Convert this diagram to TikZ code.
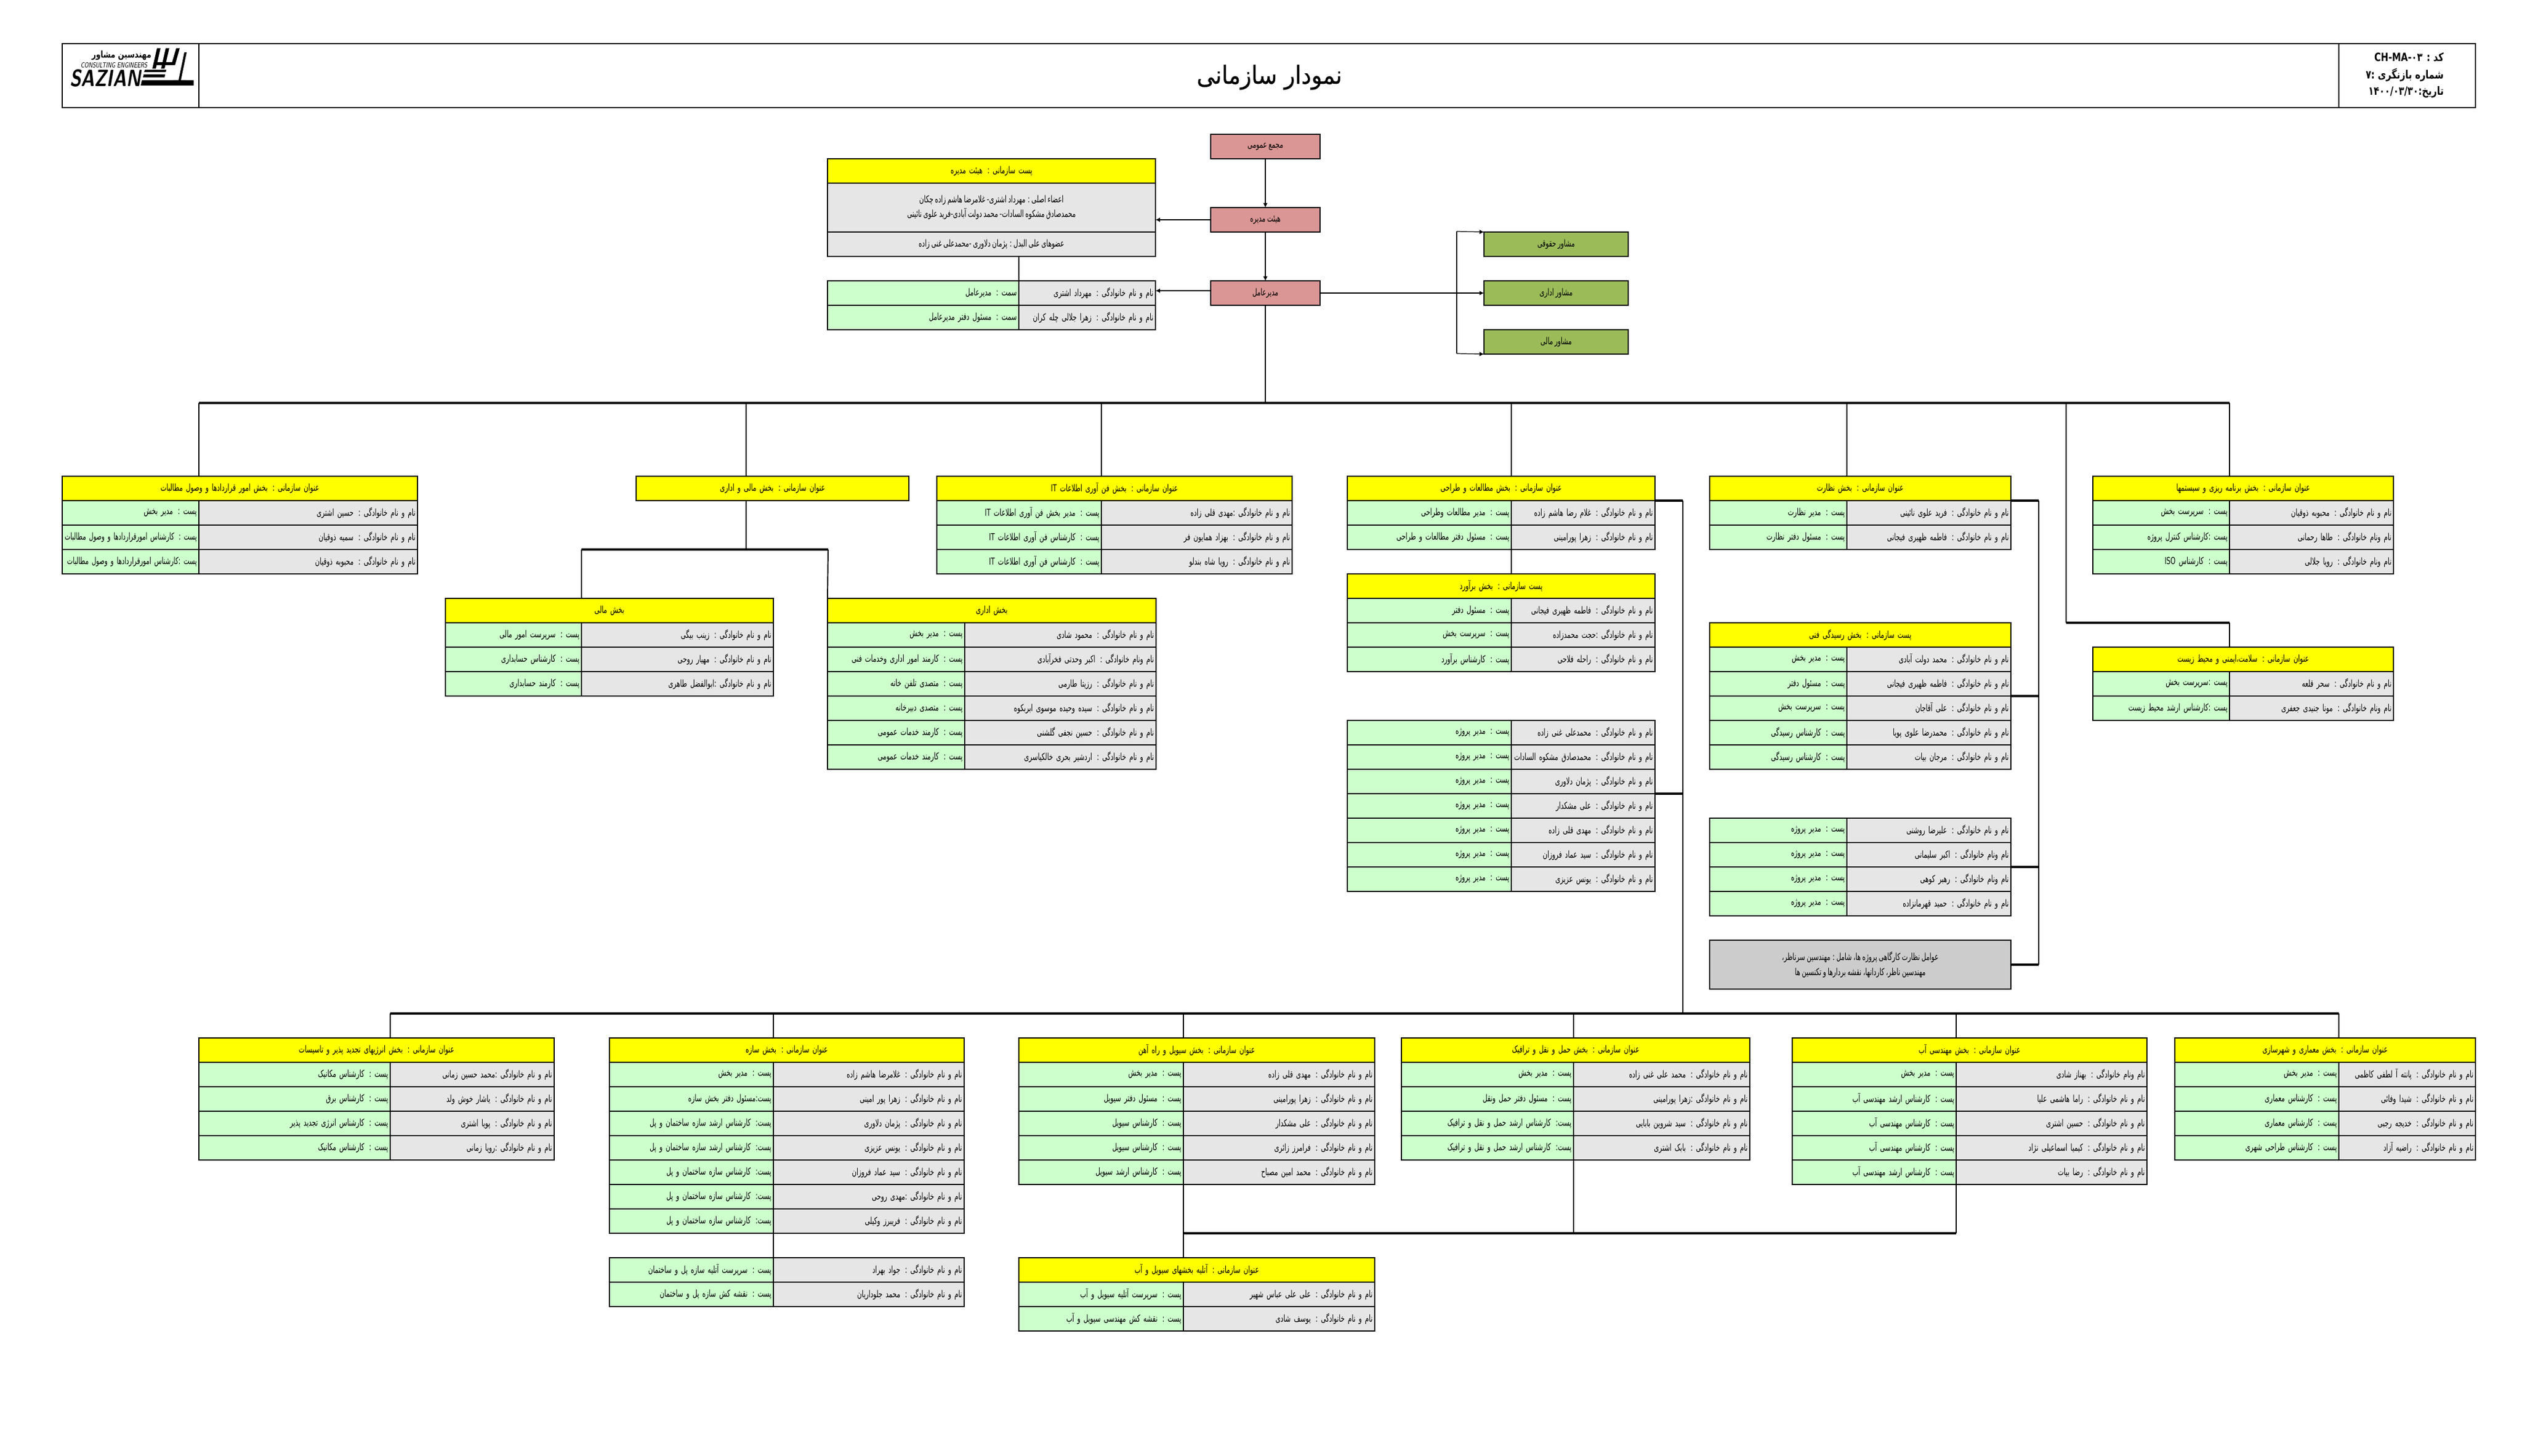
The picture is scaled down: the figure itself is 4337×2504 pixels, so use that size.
\documentclass[tikz,border=0pt]{standalone}
\usepackage{fontspec}
\usetikzlibrary{arrows.meta}
\TeXXeTstate=1
\newfontfamily\persianfont[Script=Arabic,FakeStretch=0.66,WordSpace=0.8]{DejaVu Sans}
\newfontfamily\sheetfont[Script=Arabic,FakeStretch=0.78]{DejaVu Sans}
\newfontfamily\titlefont[Script=Arabic,FakeStretch=0.9,FakeBold=0.4]{DejaVu Sans}
\definecolor{headyellow}{HTML}{FFFF00}
\definecolor{postgreen}{HTML}{CCFFCC}
\definecolor{namegray}{HTML}{E6E6E6}
\definecolor{notegray}{HTML}{CCCCCC}
\definecolor{boardred}{HTML}{D99694}
\definecolor{advolive}{HTML}{9BBB59}
\newcommand{\cellfont}{\persianfont\fontsize{4.7}{7.2}\selectfont}
\tikzset{
  anycell/.style={draw=black, line width=0.55pt, rectangle, anchor=north west, inner xsep=1pt, inner ysep=0pt, outer sep=0pt, minimum height=42*0.01cm, font=\cellfont},
  headbox/.style={anycell, fill=headyellow, align=center},
  postcell/.style={anycell, fill=postgreen, align=right},
  namecell/.style={anycell, fill=namegray, align=right},
  graycell/.style={anycell, fill=namegray, align=center},
  notebox/.style={anycell, fill=notegray, align=center},
  redbox/.style={anycell, fill=boardred, align=center},
  advbox/.style={anycell, fill=advolive, align=center},
  framecell/.style={draw=black, line width=0.75pt, rectangle, anchor=north west, inner sep=0pt, outer sep=0pt, minimum height=110*0.01cm},
  busline/.style={line width=0.95pt, black},
  dropline/.style={line width=0.55pt, black},
  thinarrow/.style={line width=0.35pt, black, -{Latex[length=2.2pt,width=2.2pt]}},
  widearrow/.style={line width=0.7pt, black, -{Latex[length=2.2pt,width=2.2pt]}}
}
% one row of a table: id, left, divider, right, top, post, person
\newcommand{\staffrow}[7]{%
  \node[postcell, minimum width={(#3-#2)*0.01cm}, text width={(#3-#2)*0.01cm-2pt}] (#1p) at (#2,#5) {#6};
  \node[namecell, minimum width={(#4-#3)*0.01cm}, text width={(#4-#3)*0.01cm-2pt}] (#1n) at (#3,#5) {#7};
}
% yellow title row: id, left, right, top, text
\newcommand{\headrow}[5]{%
  \node[headbox, minimum width={(#3-#2)*0.01cm}, text width={(#3-#2)*0.01cm-2pt}] (#1) at (#2,#4) {#5};
}
\begin{document}
\begin{tikzpicture}[x=0.01cm,y=-0.01cm]
\useasboundingbox (0,0) rectangle (4337,2504);

% sheet header
\node[framecell, minimum width=235*0.01cm] (logocell) at (107,75) {};
\node[framecell, minimum width=3680*0.01cm] (titlecell) at (342,75) {};
\node[framecell, minimum width=235*0.01cm] (codecell) at (4022,75) {};
\node[font=\titlefont\fontsize{12.2}{14}\selectfont] (sheettitle) at (2183,133) {\beginR نمودار سازمانی\endR};
\node[font=\sheetfont\fontsize{5.6}{7}\selectfont\bfseries, anchor=east, inner sep=0pt] (codeline) at (4203,98) {\beginR کد : \beginL CH-MA-۰۳\endL\endR};
\node[font=\sheetfont\fontsize{5.6}{7}\selectfont\bfseries, anchor=east, inner sep=0pt] (revline) at (4203,129) {\beginR شماره بازنگری :۷\endR};
\node[font=\sheetfont\fontsize{5.6}{7}\selectfont\bfseries, anchor=east, inner sep=0pt] (dateline) at (4203,158) {\beginR تاریخ:\beginL ۱۴۰۰/۰۳/۳۰\endL\endR};

% logo
\node[font=\sheetfont\fontsize{4.6}{5}\selectfont\bfseries, anchor=east, inner sep=0pt] (logofa) at (261,95) {\beginR مهندسین مشاور\endR};
\node[font=\sffamily\fontsize{3.6}{4}\selectfont\itshape, anchor=east, inner sep=0pt] (logoen) at (254,112) {\scalebox{.72}[1]{CONSULTING ENGINEERS}};
\node[font=\sffamily\fontsize{11.5}{12}\selectfont\bfseries\itshape, anchor=east, inner sep=0pt] (logoname) at (243,134) {\scalebox{.78}[1]{SAZIAN}};
\fill[black] (244,138) -- (333,138) -- (333,147) -- (242,147) -- cycle;
\fill[black] (247,128) -- (284,128) -- (283,133) -- (246,133) -- cycle;
\fill[black] (249,120) -- (286,120) -- (285,124) -- (248,124) -- cycle;
\fill[black] (298,138) -- (307,138) -- (317,90) -- (321,90) -- (311,138) -- (320,138) -- (320,142) -- (298,142) -- cycle;
\fill[black] (270,83) -- (276,83) -- (268,118) -- (262,118) -- cycle;
\fill[black] (285,83) -- (291,83) -- (283,118) -- (277,118) -- cycle;
\fill[black] (303,83) -- (309,83) -- (301,112) -- (266,112) -- (267,107) -- (296,107) -- cycle;

% top of the chart
\node[redbox, minimum width=188*0.01cm] (assembly) at (2082,231) {\beginR مجمع عمومی\endR};
\node[redbox, minimum width=188*0.01cm] (board) at (2082,357) {\beginR هیئت مدیره\endR};
\node[redbox, minimum width=188*0.01cm] (ceo) at (2082,483) {\beginR مدیرعامل\endR};
\headrow{boardhead}{1423}{1987}{273}{\beginR پست سازمانی : هیئت مدیره\endR}
\node[graycell, minimum width=564*0.01cm, minimum height=84*0.01cm] (boardmain) at (1423,315) {\beginR اعضاء اصلی : مهرداد اشتری- غلامرضا هاشم زاده چکان\endR\\\beginR محمدصادق مشکوه السادات- محمد دولت آبادی-فرید علوی نائینی\endR};
\node[graycell, minimum width=564*0.01cm] (boardalt) at (1423,399) {\beginR عضوهای علی البدل : پژمان دلاوری -محمدعلی غنی زاده\endR};
\staffrow{ceoa}{1423}{1752}{1987}{483}{\beginR سمت : مدیرعامل\endR}{\beginR نام و نام خانوادگی : مهرداد اشتری\endR}
\staffrow{ceob}{1423}{1752}{1987}{525}{\beginR سمت : مسئول دفتر مدیرعامل\endR}{\beginR نام و نام خانوادگی : زهرا جلالی چله کران\endR}
\node[advbox, minimum width=248*0.01cm] (legal) at (2552,399) {\beginR مشاور حقوقی\endR};
\node[advbox, minimum width=248*0.01cm] (admin) at (2552,483) {\beginR مشاور اداری\endR};
\node[advbox, minimum width=248*0.01cm] (finance) at (2552,567) {\beginR مشاور مالی\endR};

% contracts
\headrow{conthead}{107}{718}{819}{\beginR عنوان سازمانی : بخش امور قراردادها و وصول مطالبات\endR}
\staffrow{conta}{107}{342}{718}{861}{\beginR پست : مدیر بخش\endR}{\beginR نام و نام خانوادگی : حسین اشتری\endR}
\staffrow{contb}{107}{342}{718}{903}{\resizebox{2.27cm}{\height}{\beginR پست : کارشناس امورقراردادها و وصول مطالبات\endR}}{\beginR نام و نام خانوادگی : سمیه ذوقیان\endR}
\staffrow{contc}{107}{342}{718}{945}{\resizebox{2.23cm}{\height}{\beginR پست :کارشناس امورقراردادها و وصول مطالبات\endR}}{\beginR نام و نام خانوادگی : محبوبه ذوقیان\endR}

% finance and administration
\headrow{fiadhead}{1094}{1563}{819}{\beginR عنوان سازمانی : بخش مالی و اداری\endR}
\headrow{finhead}{766}{1330}{1029}{\beginR بخش  مالی\endR}
\staffrow{fina}{766}{1000}{1330}{1071}{\beginR پست : سرپرست امور مالی\endR}{\beginR نام و نام خانوادگی : زینب بیگی\endR}
\staffrow{finb}{766}{1000}{1330}{1113}{\beginR پست : کارشناس حسابداری\endR}{\beginR نام و نام خانوادگی : مهیار روحی\endR}
\staffrow{finc}{766}{1000}{1330}{1155}{\beginR پست : کارمند حسابداری\endR}{\beginR نام و نام خانوادگی :ابوالفضل طاهری\endR}
\headrow{offhead}{1423}{1988}{1029}{\beginR بخش اداری\endR}
\staffrow{offa}{1423}{1659}{1988}{1071}{\beginR پست : مدیر بخش\endR}{\beginR نام و نام خانوادگی : محمود شادی\endR}
\staffrow{offb}{1423}{1659}{1988}{1113}{\beginR پست : کارمند امور اداری وخدمات فنی\endR}{\beginR نام ونام خانوادگی : اکبر وحدتی فخرآبادی\endR}
\staffrow{offc}{1423}{1659}{1988}{1155}{\beginR پست : متصدی تلفن خانه\endR}{\beginR نام و نام خانوادگی : رزیتا طارمی\endR}
\staffrow{offd}{1423}{1659}{1988}{1197}{\beginR پست : متصدی دبیرخانه\endR}{\beginR نام و نام خانوادگی : سیده وحیده موسوی ابربکوه\endR}
\staffrow{offe}{1423}{1659}{1988}{1239}{\beginR پست : کارمند خدمات عمومی\endR}{\beginR نام و نام خانوادگی : حسین نجفی گلشنی\endR}
\staffrow{offf}{1423}{1659}{1988}{1281}{\beginR پست : کارمند خدمات عمومی\endR}{\beginR نام و نام خانوادگی : اردشیر بحری خالکیاسری\endR}

% information technology
\headrow{ithead}{1611}{2222}{819}{\beginR عنوان سازمانی : بخش فن آوری اطلاعات \beginL IT\endL\endR}
\staffrow{ita}{1611}{1894}{2222}{861}{\beginR پست : مدیر بخش فن آوری اطلاعات \beginL IT\endL\endR}{\beginR نام و نام خانوادگی :مهدی قلی زاده\endR}
\staffrow{itb}{1611}{1894}{2222}{903}{\beginR پست : کارشناس فن آوری اطلاعات \beginL IT\endL\endR}{\beginR نام و نام خانوادگی : بهزاد همایون فر\endR}
\staffrow{itc}{1611}{1894}{2222}{945}{\beginR پست : کارشناس فن آوری اطلاعات \beginL IT\endL\endR}{\beginR نام و نام خانوادگی : رویا شاه بندلو\endR}

% studies and design
\headrow{studyhead}{2317}{2846}{819}{\beginR عنوان سازمانی : بخش مطالعات و طراحی\endR}
\staffrow{studya}{2317}{2599}{2846}{861}{\beginR پست : مدیر مطالعات وطراحی\endR}{\beginR نام و نام خانوادگی : غلام رضا هاشم زاده\endR}
\staffrow{studyb}{2317}{2599}{2846}{903}{\beginR پست : مسئول دفتر مطالعات و طراحی\endR}{\beginR نام و نام خانوادگی : زهرا پورامینی\endR}
\headrow{esthead}{2317}{2846}{987}{\beginR پست سازمانی : بخش برآورد\endR}
\staffrow{esta}{2317}{2599}{2846}{1029}{\beginR پست : مسئول دفتر\endR}{\beginR نام و نام خانوادگی : فاطمه ظهیری فیجانی\endR}
\staffrow{estb}{2317}{2599}{2846}{1071}{\beginR پست : سرپرست بخش\endR}{\beginR نام و نام خانوادگی :حجت محمدزاده\endR}
\staffrow{estc}{2317}{2599}{2846}{1113}{\beginR پست : کارشناس برآورد\endR}{\beginR نام و نام خانوادگی : راحله فلاحی\endR}
\staffrow{pma}{2317}{2599}{2846}{1239}{\beginR پست : مدیر پروژه\endR}{\beginR نام و نام خانوادگی : محمدعلی غنی زاده\endR}
\staffrow{pmb}{2317}{2599}{2846}{1281}{\beginR پست : مدیر پروژه\endR}{\beginR نام و نام خانوادگی : محمدصادق مشکوه السادات\endR}
\staffrow{pmc}{2317}{2599}{2846}{1323}{\beginR پست : مدیر پروژه\endR}{\beginR نام و نام خانوادگی : پژمان دلاوری\endR}
\staffrow{pmd}{2317}{2599}{2846}{1365}{\beginR پست : مدیر پروژه\endR}{\beginR نام و نام خانوادگی : علی مشکدار\endR}
\staffrow{pme}{2317}{2599}{2846}{1407}{\beginR پست : مدیر پروژه\endR}{\beginR نام و نام خانوادگی : مهدی قلی زاده\endR}
\staffrow{pmf}{2317}{2599}{2846}{1449}{\beginR پست : مدیر پروژه\endR}{\beginR نام و نام خانوادگی : سید عماد فروزان\endR}
\staffrow{pmg}{2317}{2599}{2846}{1491}{\beginR پست : مدیر پروژه\endR}{\beginR نام و نام خانوادگی : یونس عزیزی\endR}

% supervision
\headrow{superhead}{2940}{3458}{819}{\beginR عنوان سازمانی : بخش نظارت\endR}
\staffrow{supera}{2940}{3176}{3458}{861}{\beginR پست : مدیر نظارت\endR}{\beginR نام و نام خانوادگی : فرید علوی نائینی\endR}
\staffrow{superb}{2940}{3176}{3458}{903}{\beginR پست : مسئول دفتر نظارت\endR}{\beginR نام و نام خانوادگی : فاطمه ظهیری فیجانی\endR}
\headrow{checkhead}{2940}{3458}{1071}{\beginR پست سازمانی : بخش رسیدگی فنی\endR}
\staffrow{checka}{2940}{3176}{3458}{1113}{\beginR پست : مدیر بخش\endR}{\beginR نام و نام خانوادگی : محمد دولت آبادی\endR}
\staffrow{checkb}{2940}{3176}{3458}{1155}{\beginR پست : مسئول دفتر\endR}{\beginR نام و نام خانوادگی : فاطمه ظهیری فیجانی\endR}
\staffrow{checkc}{2940}{3176}{3458}{1197}{\beginR پست : سرپرست بخش\endR}{\beginR نام و نام خانوادگی : علی آقاجان\endR}
\staffrow{checkd}{2940}{3176}{3458}{1239}{\beginR پست : کارشناس رسیدگی\endR}{\beginR نام و نام خانوادگی : محمدرضا علوی پویا\endR}
\staffrow{checke}{2940}{3176}{3458}{1281}{\beginR پست : کارشناس رسیدگی\endR}{\beginR نام و نام خانوادگی : مرجان بیات\endR}
\staffrow{sitea}{2940}{3176}{3458}{1407}{\beginR پست : مدیر پروژه\endR}{\beginR نام و نام خانوادگی : علیرضا روشنی\endR}
\staffrow{siteb}{2940}{3176}{3458}{1449}{\beginR پست : مدیر پروژه\endR}{\beginR نام ونام خانوادگی : اکبر سلیمانی\endR}
\staffrow{sitec}{2940}{3176}{3458}{1491}{\beginR پست : مدیر پروژه\endR}{\beginR نام ونام خانوادگی : رهبر کوهی\endR}
\staffrow{sited}{2940}{3176}{3458}{1533}{\beginR پست : مدیر پروژه\endR}{\beginR نام و نام خانوادگی : حمید قهرمانزاده\endR}
\node[notebox, minimum width=518*0.01cm, minimum height=84*0.01cm] (sitenote) at (2940,1617) {\beginR عوامل نظارت کارگاهی پروژه ها، شامل : مهندسین سرناظر،\endR\\\beginR مهندسین ناظر، کاردانها، نقشه بردارها و تکنسین ها\endR};

% planning and health
\headrow{planhead}{3599}{4116}{819}{\beginR عنوان سازمانی : بخش برنامه ریزی و سیستمها\endR}
\staffrow{plana}{3599}{3834}{4116}{861}{\beginR پست : سرپرست بخش\endR}{\beginR نام و نام خانوادگی : محبوبه ذوقیان\endR}
\staffrow{planb}{3599}{3834}{4116}{903}{\beginR پست :کارشناس کنترل پروژه\endR}{\beginR نام ونام خانوادگی : طاها رحمانی\endR}
\staffrow{planc}{3599}{3834}{4116}{945}{\beginR پست : کارشناس \beginL ISO\endL\endR}{\beginR نام ونام خانوادگی : رویا جلالی\endR}
\headrow{hsehead}{3599}{4116}{1113}{\beginR عنوان سازمانی : سلامت،ایمنی و محیط زیست\endR}
\staffrow{hsea}{3599}{3834}{4116}{1155}{\beginR پست :سرپرست بخش\endR}{\beginR نام و نام خانوادگی : سحر قلعه\endR}
\staffrow{hseb}{3599}{3834}{4116}{1197}{\beginR پست :کارشناس ارشد محیط زیست\endR}{\beginR نام ونام خانوادگی : مونا جنیدی جعفری\endR}

% energy
\headrow{enerhead}{342}{953}{1785}{\beginR عنوان سازمانی : بخش انرژیهای تجدید پذیر و تاسیسات\endR}
\staffrow{enera}{342}{671}{953}{1827}{\beginR پست : کارشناس مکانیک\endR}{\beginR نام و نام خانوادگی :محمد حسین زمانی\endR}
\staffrow{enerb}{342}{671}{953}{1869}{\beginR پست : کارشناس برق\endR}{\beginR نام و نام خانوادگی : یاشار خوش ولد\endR}
\staffrow{enerc}{342}{671}{953}{1911}{\beginR پست : کارشناس انرژی تجدید پذیر\endR}{\beginR نام و نام خانوادگی : پویا اشتری\endR}
\staffrow{enerd}{342}{671}{953}{1953}{\beginR پست : کارشناس مکانیک\endR}{\beginR نام و نام خانوادگی :رویا زمانی\endR}

% structures
\headrow{strhead}{1048}{1658}{1785}{\beginR عنوان سازمانی : بخش سازه\endR}
\staffrow{stra}{1048}{1330}{1658}{1827}{\beginR پست : مدیر بخش\endR}{\beginR نام و نام خانوادگی : غلامرضا هاشم زاده\endR}
\staffrow{strb}{1048}{1330}{1658}{1869}{\beginR پست:مسئول دفتر بخش سازه\endR}{\beginR نام و نام خانوادگی : زهرا پور امینی\endR}
\staffrow{strc}{1048}{1330}{1658}{1911}{\beginR پست: کارشناس ارشد سازه ساختمان و پل\endR}{\beginR نام و نام خانوادگی : پژمان دلاوری\endR}
\staffrow{strd}{1048}{1330}{1658}{1953}{\beginR پست: کارشناس ارشد سازه ساختمان و پل\endR}{\beginR نام و نام خانوادگی : یونس عزیزی\endR}
\staffrow{stre}{1048}{1330}{1658}{1995}{\beginR پست: کارشناس سازه ساختمان و پل\endR}{\beginR نام و نام خانوادگی : سید عماد فروزان\endR}
\staffrow{strf}{1048}{1330}{1658}{2037}{\beginR پست: کارشناس سازه ساختمان و پل\endR}{\beginR نام و نام خانوادگی :مهدی روحی\endR}
\staffrow{strg}{1048}{1330}{1658}{2079}{\beginR پست: کارشناس سازه ساختمان و پل\endR}{\beginR نام و نام خانوادگی : فریبرز وکیلی\endR}
\staffrow{stdra}{1048}{1330}{1658}{2163}{\beginR پست : سرپرست آتلیه سازه پل و ساختمان\endR}{\beginR نام و نام خانوادگی : جواد بهراد\endR}
\staffrow{stdrb}{1048}{1330}{1658}{2205}{\beginR پست : نقشه کش سازه پل و ساختمان\endR}{\beginR نام و نام خانوادگی : محمد جلوداریان\endR}

% civil and railway
\headrow{civhead}{1752}{2364}{1785}{\beginR عنوان سازمانی : بخش سیویل و راه آهن\endR}
\staffrow{civa}{1752}{2035}{2364}{1827}{\beginR پست : مدیر بخش\endR}{\beginR نام و نام خانوادگی : مهدی قلی زاده\endR}
\staffrow{civb}{1752}{2035}{2364}{1869}{\beginR پست : مسئول دفتر سیویل\endR}{\beginR نام و نام خانوادگی : زهرا پورامینی\endR}
\staffrow{civc}{1752}{2035}{2364}{1911}{\beginR پست : کارشناس سیویل\endR}{\beginR نام و نام خانوادگی : علی مشکدار\endR}
\staffrow{civd}{1752}{2035}{2364}{1953}{\beginR پست : کارشناس سیویل\endR}{\beginR نام و نام خانوادگی : فرامرز زائری\endR}
\staffrow{cive}{1752}{2035}{2364}{1995}{\beginR پست : کارشناس ارشد سیویل\endR}{\beginR نام و نام خانوادگی : محمد امین مصباح\endR}
\headrow{atehead}{1752}{2364}{2163}{\beginR عنوان سازمانی : آتلیه بخشهای سیویل و آب\endR}
\staffrow{atea}{1752}{2035}{2364}{2205}{\beginR پست : سرپرست آتلیه سیویل و آب\endR}{\beginR نام و نام خانوادگی : علی علی عباس شهیر\endR}
\staffrow{ateb}{1752}{2035}{2364}{2247}{\beginR پست : نقشه کش مهندسی سیویل و آب\endR}{\beginR نام و نام خانوادگی : یوسف شادی\endR}

% transport
\headrow{trahead}{2410}{3009}{1785}{\beginR عنوان سازمانی : بخش حمل و نقل و ترافیک\endR}
\staffrow{traa}{2410}{2706}{3009}{1827}{\beginR پست : مدیر بخش\endR}{\beginR نام و نام خانوادگی : محمد علی غنی زاده\endR}
\staffrow{trab}{2410}{2706}{3009}{1869}{\beginR پست : مسئول دفتر حمل ونقل\endR}{\beginR نام و نام خانوادگی :زهرا پورامینی\endR}
\staffrow{trac}{2410}{2706}{3009}{1911}{\beginR پست: کارشناس ارشد حمل و نقل و ترافیک\endR}{\beginR نام و نام خانوادگی : سید شروین بابایی\endR}
\staffrow{trad}{2410}{2706}{3009}{1953}{\beginR پست: کارشناس ارشد حمل و نقل و ترافیک\endR}{\beginR نام و نام خانوادگی : بابک اشتری\endR}

% water
\headrow{wathead}{3082}{3692}{1785}{\beginR عنوان سازمانی : بخش مهندسی آب\endR}
\staffrow{wata}{3082}{3364}{3692}{1827}{\beginR پست : مدیر بخش\endR}{\beginR نام ونام خانوادگی : بهناز شادی\endR}
\staffrow{watb}{3082}{3364}{3692}{1869}{\beginR پست : کارشناس ارشد مهندسی آب\endR}{\beginR نام و نام خانوادگی : راما هاشمی علیا\endR}
\staffrow{watc}{3082}{3364}{3692}{1911}{\beginR پست : کارشناس  مهندسی آب\endR}{\beginR نام و نام خانوادگی : حسین اشتری\endR}
\staffrow{watd}{3082}{3364}{3692}{1953}{\beginR پست : کارشناس  مهندسی آب\endR}{\beginR نام و نام خانوادگی : کیمیا اسماعیلی نژاد\endR}
\staffrow{wate}{3082}{3364}{3692}{1995}{\beginR پست : کارشناس ارشد مهندسی آب\endR}{\beginR نام و نام خانوادگی : رضا بیات\endR}

% architecture
\headrow{archhead}{3740}{4257}{1785}{\beginR عنوان سازمانی : بخش معماری و شهرسازی\endR}
\staffrow{archa}{3740}{4022}{4257}{1827}{\beginR پست : مدیر بخش\endR}{\beginR نام و نام خانوادگی : پانته آ لطفی کاظمی\endR}
\staffrow{archb}{3740}{4022}{4257}{1869}{\beginR پست : کارشناس  معماری\endR}{\beginR نام و نام خانوادگی : شیدا وفائی\endR}
\staffrow{archc}{3740}{4022}{4257}{1911}{\beginR پست : کارشناس  معماری\endR}{\beginR نام و نام خانوادگی : خدیجه رجبی\endR}
\staffrow{archd}{3740}{4022}{4257}{1953}{\beginR پست : کارشناس طراحی شهری\endR}{\beginR نام و نام خانوادگی : راضیه آزاد\endR}

% turning points
\coordinate (busupleft) at (342,693);
\coordinate (busupright) at (3834,693);
\coordinate (buslowleft) at (671,1743);
\coordinate (buslowright) at (4022,1743);
\coordinate (busciv) at (2035,2121);
\coordinate (buswat) at (3364,2121);
\coordinate (fiadleft) at (1000,945);
\coordinate (fiadright) at (1424,945);
\coordinate (fiadmid) at (1283,861);
\coordinate (hseturn) at (3553,1071);
\coordinate (studyturn) at (2894,861);
\coordinate (superturn) at (3506,861);
\coordinate (advtop) at (2505,398);
\coordinate (advbot) at (2505,608);

% top connectors
\draw[thinarrow] (assembly.south) -- (board.north);
\draw[thinarrow] (board.south) -- (ceo.north);
\draw[widearrow] (board.west) -- (boardmain.east |- board.west);
\draw[widearrow] (ceo.west |- 0,500) -- (ceoan.east |- 0,500);
\draw[dropline] (boardalt.south -| ceoan.north west) -- (ceoan.north west);
\draw[widearrow] (ceo.east) -- (admin.west);
\draw[line width=0.35pt] (advtop) -- (advbot);
\draw[thinarrow] (advtop) -- (legal.north west);
\draw[thinarrow] (advbot) -- (finance.south west);
\draw[dropline] (ceo.south) -- (ceo.south |- busupleft);

% upper bus
\draw[busline] (busupleft) -- (busupright);
\draw[dropline] (busupleft) -- (contan.north west |- conthead.north);
\draw[dropline] (busupleft -| fiadmid) -- (fiadhead.north -| fiadmid);
\draw[dropline] (busupleft -| itan.north west) -- (itan.north west |- ithead.north);
\draw[dropline] (busupleft -| studyan.north west) -- (studyan.north west |- studyhead.north);
\draw[dropline] (busupleft -| superan.north west) -- (superan.north west |- superhead.north);
\draw[dropline] (busupright) -- (planan.north west |- planhead.north);
\draw[busline] (hseturn) -- (hseturn -| hsean.north west);
\draw[dropline] (busupleft -| hseturn) -- (hseturn);
\draw[dropline] (hseturn -| hsean.north west) -- (hsean.north west |- hsehead.north);

% finance and administration branches
\draw[dropline] (fiadmid) -- (fiadleft -| fiadmid);
\draw[busline] (fiadleft) -- (fiadright);
\draw[dropline] (fiadleft) -- (finan.north west |- finhead.north);
\draw[dropline] (fiadright) -- (offhead.north west);

% studies branches
\draw[dropline] (studybn.south west) -- (studybn.south west |- esthead.north);
\draw[busline] (studyan.north east) -- (studyturn);
\draw[dropline] (studyturn) -- (studyturn |- buslowleft);
\draw[busline] (pmdn.north east) -- (pmdn.north east -| studyturn);

% supervision branches
\draw[busline] (superan.north east) -- (superturn);
\draw[dropline] (superturn) -- (superturn |- sitenote.east);
\draw[busline] (checkcn.north east) -- (checkcn.north east -| superturn);
\draw[busline] (sitecn.north east) -- (sitecn.north east -| superturn);
\draw[busline] (sitenote.east) -- (sitenote.east -| superturn);

% lower bus
\draw[busline] (buslowleft) -- (buslowright);
\draw[dropline] (buslowleft) -- (enerhead.north -| buslowleft);
\draw[dropline] (buslowleft -| stran.north west) -- (stran.north west |- strhead.north);
\draw[dropline] (buslowleft -| civan.north west) -- (civan.north west |- civhead.north);
\draw[dropline] (buslowleft -| traan.north west) -- (traan.north west |- trahead.north);
\draw[dropline] (buslowleft -| watan.north west) -- (watan.north west |- wathead.north);
\draw[dropline] (buslowright) -- (archan.north west |- archhead.north);

% bottom branches
\draw[dropline] (strgn.south west) -- (stdran.north west);
\draw[dropline] (civen.south west) -- (atean.north west |- atehead.north);
\draw[busline] (busciv) -- (buswat);
\draw[dropline] (tradn.south west) -- (tradn.south west |- busciv);
\draw[dropline] (waten.south west) -- (buswat);
\end{tikzpicture}
\end{document}
